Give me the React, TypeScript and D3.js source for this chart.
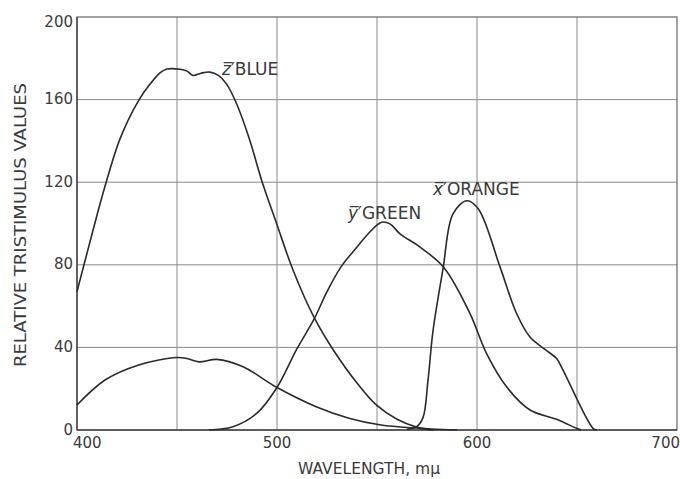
import React from "react";
import * as d3 from "d3";

// Big z' (blue) curve
const zBigWave = [400, 407, 414, 421.5, 430.7, 436.5, 441.5, 445, 451.5, 455, 458, 462, 466.5, 470.7, 474.8, 479.8, 486.5, 492.3, 499.8, 507.8, 518.6, 528, 539.8, 549.8, 560, 569.8, 578];
const zBigVals = [67, 93, 118, 141, 159.4, 167.5, 173, 174.8, 174.7, 173.8, 171.7, 172.8, 173.3, 171.7, 167.5, 158, 140, 121, 100, 78, 54.4, 39, 23, 12, 5.2, 1.4, 0];

// Small z (lower blue) curve
const zSmallWave = [400, 414, 430.5, 450, 455, 461, 470, 483, 500, 519.6, 536, 552, 577, 590];
const zSmallVals = [12.1, 24.2, 31.4, 35.1, 34.6, 33, 34.2, 30.6, 20.6, 11.3, 5.7, 2.4, 0.5, 0];

// y' (green) curve
const yWave = [466, 478, 489.8, 500, 509.8, 518.7, 525, 532, 540, 547, 552.3, 556.5, 561.5, 571.5, 583.5, 596.5, 604.8, 614.8, 626.5, 639.8, 649.8, 652];
const yVals = [0, 1.6, 8, 20.6, 39, 54, 67, 79, 88.6, 96.5, 100.6, 99.8, 95, 88.6, 78.6, 56.4, 37, 20.9, 9.7, 5.2, 0.8, 0];

// x' (orange) curve
const xWave = [565, 569.8, 573, 575.5, 578, 583, 588, 595, 600.7, 611.5, 619.8, 626.5, 634, 639.8, 643, 658, 660];
const xVals = [0.3, 1.6, 6, 24, 48, 78, 104.7, 111, 107, 79, 56.4, 45, 39, 34.6, 29, 0.8, 0];

const xTicks = [400, 500, 600, 700];
const yTicks = [0, 40, 80, 120, 160, 200];
const xGrid = [450, 500, 550, 600, 650];
const yGrid = [40, 80, 120, 160];

const curveLabels = [
  { letter: "z", name: "BLUE", w: 472.5, v: 172 },
  { letter: "y", name: "GREEN", w: 535.5, v: 102 },
  { letter: "x", name: "ORANGE", w: 578, v: 114 },
];

export default function App() {
  const W = 680, H = 479;
  const x = d3.scaleLinear().domain([400, 700]).range([77, 677]);
  const y = d3.scaleLinear().domain([0, 200]).range([430, 17]);
  const line = d3
    .line<[number, number]>()
    .x((d) => x(d[0]))
    .y((d) => Math.min(y(0), y(d[1])))
    .curve(d3.curveCatmullRom.alpha(0.5));
  const zip = (a: number[], b: number[]) => a.map((w, i) => [w, b[i]] as [number, number]);
  const series = [zip(zBigWave, zBigVals), zip(zSmallWave, zSmallVals), zip(yWave, yVals), zip(xWave, xVals)];
  const font = "'DejaVu Sans', sans-serif";
  const textColor = "#3a3a3a";

  return (
    <svg width={W} height={H} style={{ position: "absolute", left: 0, top: 0, background: "#fff" }} fontFamily={font}>
      <rect x={0} y={0} width={W} height={H} fill="#fff" />
      {xGrid.map((g) => (
        <line key={"xg" + g} x1={x(g)} x2={x(g)} y1={y(200)} y2={y(0)} stroke="#8a8a8a" strokeWidth={1} />
      ))}
      {yGrid.map((g) => (
        <line key={"yg" + g} x1={x(400)} x2={x(700)} y1={y(g)} y2={y(g)} stroke="#8a8a8a" strokeWidth={1} />
      ))}
      <rect x={x(400)} y={y(200)} width={x(700) - x(400)} height={y(0) - y(200)} fill="none" stroke="#666" strokeWidth={1.2} />
      <line x1={x(400)} x2={x(400)} y1={y(200)} y2={y(0)} stroke="#444" strokeWidth={1.4} />
      <line x1={x(400)} x2={x(700)} y1={y(0)} y2={y(0)} stroke="#444" strokeWidth={1.4} />
      {series.map((s, i) => (
        <path key={"s" + i} d={line(s) || ""} fill="none" stroke="#2a2a2a" strokeWidth={1.6} strokeLinejoin="round" />
      ))}
      {yTicks.map((t) => (
        <text key={"yt" + t} x={73} y={y(t) + (t === 200 ? 5 : 0)} textAnchor="end" dominantBaseline="middle" fontSize={15} fill={textColor}>
          {t}
        </text>
      ))}
      {xTicks.map((t, i) => (
        <text
          key={"xt" + t}
          x={i === 0 ? x(t) - 4 : i === xTicks.length - 1 ? x(t) + 3 : x(t)}
          y={448}
          textAnchor={i === 0 ? "start" : i === xTicks.length - 1 ? "end" : "middle"}
          fontSize={15}
          fill={textColor}
        >
          {t}
        </text>
      ))}
      <text x={298} y={474} fontSize={16} fill={textColor} textLength={142} lengthAdjust="spacingAndGlyphs">
        WAVELENGTH, mμ
      </text>
      <text
        transform="translate(26,225) rotate(-90)"
        textAnchor="middle"
        fontSize={16}
        fill={textColor}
        textLength={284}
        lengthAdjust="spacingAndGlyphs"
      >
        RELATIVE TRISTIMULUS VALUES
      </text>
      {curveLabels.map((c) => (
        <text key={c.name} x={x(c.w)} y={y(c.v)} fontSize={17} fill={textColor}>
          <tspan fontStyle="italic">{c.letter + "\u0305"}</tspan>
          {"\u2032" + c.name}
        </text>
      ))}
    </svg>
  );
}
